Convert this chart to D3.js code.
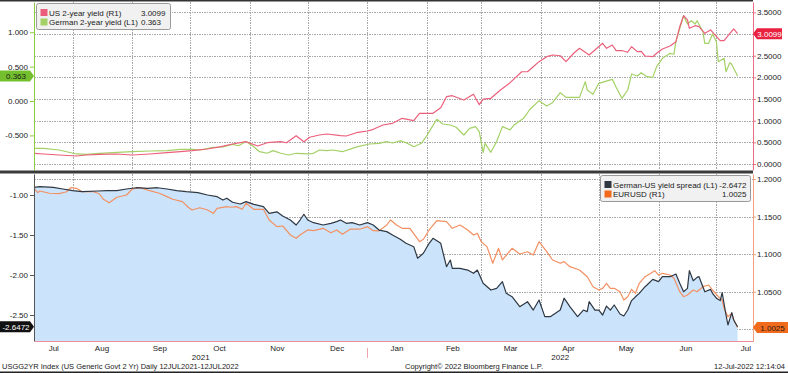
<!DOCTYPE html>
<meta charset="utf-8">
<style>
body { margin: 0; background: #fff; }
svg text { font-family: "Liberation Sans", Arial, sans-serif; font-size: 8px; }
.grid line { stroke: #a8a8a8; stroke-width: 1; stroke-dasharray: 1.5,1; shape-rendering: crispEdges; }
</style>
<body>
<script src="https://d3js.org/d3.v7.min.js"></script>
<script>

// ---- data ----
var usDates = ["2021-07-12","2021-07-17","2021-07-25","2021-08-03","2021-08-08","2021-08-15","2021-08-24","2021-09-01","2021-09-10","2021-09-19","2021-09-26","2021-10-02","2021-10-10","2021-10-17","2021-10-23","2021-10-30","2021-11-05","2021-11-10","2021-11-17","2021-11-20","2021-11-25","2021-11-29","2021-12-02","2021-12-07","2021-12-11","2021-12-18","2021-12-21","2021-12-27","2022-01-01","2022-01-04","2022-01-09","2022-01-14","2022-01-19","2022-01-25","2022-01-28","2022-02-04","2022-02-08","2022-02-11","2022-02-14","2022-02-20","2022-02-25","2022-02-28","2022-03-02","2022-03-06","2022-03-11","2022-03-16","2022-03-22","2022-03-25","2022-03-28","2022-03-31","2022-04-04","2022-04-07","2022-04-11","2022-04-14","2022-04-18","2022-04-21","2022-04-26","2022-04-30","2022-05-03","2022-05-05","2022-05-08","2022-05-10","2022-05-13","2022-05-16","2022-05-18","2022-05-21","2022-05-23","2022-05-25","2022-05-29","2022-05-31","2022-06-03","2022-06-07","2022-06-10","2022-06-12","2022-06-14","2022-06-16","2022-06-17","2022-06-20","2022-06-22","2022-06-25","2022-06-28","2022-06-30","2022-07-03","2022-07-05","2022-07-08","2022-07-10","2022-07-12"];
var usYield = [0.247,0.231,0.208,0.185,0.208,0.224,0.231,0.208,0.231,0.261,0.284,0.307,0.346,0.40,0.462,0.515,0.416,0.492,0.515,0.49,0.654,0.515,0.617,0.67,0.693,0.654,0.647,0.732,0.762,0.801,0.90,0.94,1.055,1.0,1.171,1.171,1.30,1.554,1.577,1.478,1.61,1.37,1.50,1.517,1.709,1.878,2.13,2.13,2.247,2.363,2.478,2.517,2.50,2.363,2.557,2.672,2.517,2.672,2.788,2.672,2.748,2.617,2.62,2.58,2.709,2.594,2.60,2.494,2.478,2.557,2.656,2.725,2.824,3.171,3.425,3.326,3.134,3.194,3.171,3.018,3.095,2.995,2.848,2.848,3.018,3.118,3.0099];

var deDates = ["2021-07-12","2021-07-17","2021-07-25","2021-08-03","2021-08-08","2021-08-15","2021-08-24","2021-09-01","2021-09-10","2021-09-19","2021-09-26","2021-10-02","2021-10-06","2021-10-13","2021-10-18","2021-10-23","2021-10-26","2021-10-30","2021-11-03","2021-11-06","2021-11-10","2021-11-13","2021-11-17","2021-11-21","2021-11-25","2021-12-01","2021-12-04","2021-12-07","2021-12-11","2021-12-14","2021-12-19","2021-12-23","2021-12-27","2022-01-02","2022-01-07","2022-01-11","2022-01-14","2022-01-18","2022-01-21","2022-01-25","2022-01-29","2022-02-01","2022-02-02","2022-02-06","2022-02-09","2022-02-13","2022-02-16","2022-02-20","2022-02-23","2022-02-26","2022-02-28","2022-03-02","2022-03-03","2022-03-06","2022-03-09","2022-03-12","2022-03-16","2022-03-18","2022-03-23","2022-03-26","2022-03-31","2022-04-04","2022-04-07","2022-04-11","2022-04-14","2022-04-21","2022-04-24","2022-04-25","2022-04-28","2022-05-01","2022-05-04","2022-05-08","2022-05-10","2022-05-13","2022-05-16","2022-05-18","2022-05-21","2022-05-23","2022-05-26","2022-05-29","2022-05-31","2022-06-03","2022-06-07","2022-06-09","2022-06-10","2022-06-14","2022-06-16","2022-06-18","2022-06-20","2022-06-21","2022-06-24","2022-06-25","2022-06-27","2022-06-29","2022-07-01","2022-07-02","2022-07-05","2022-07-06","2022-07-08","2022-07-09","2022-07-12"];
var deYield = [-0.688,-0.688,-0.712,-0.77,-0.775,-0.76,-0.746,-0.737,-0.727,-0.722,-0.702,-0.702,-0.712,-0.673,-0.669,-0.63,-0.65,-0.59,-0.664,-0.737,-0.76,-0.722,-0.76,-0.785,-0.76,-0.77,-0.76,-0.712,-0.722,-0.712,-0.737,-0.70,-0.664,-0.625,-0.615,-0.59,-0.61,-0.58,-0.605,-0.664,-0.615,-0.494,-0.445,-0.266,-0.334,-0.349,-0.382,-0.494,-0.397,-0.373,-0.445,-0.751,-0.615,-0.746,-0.59,-0.373,-0.42,-0.349,-0.252,-0.131,0.005,-0.073,-0.025,0.121,0.053,0.053,0.281,0.16,0.097,0.257,0.281,0.315,0.20,0.039,0.16,0.392,0.363,0.411,0.353,0.344,0.499,0.62,0.693,0.68,0.862,1.24,1.119,1.167,1.119,1.167,1.007,0.839,0.839,0.974,0.862,0.571,0.62,0.426,0.557,0.53,0.363];

var spreadDates = ["2021-07-12","2021-07-15","2021-07-22","2021-07-27","2021-08-01","2021-08-06","2021-08-14","2021-08-19","2021-08-24","2021-08-29","2021-09-03","2021-09-09","2021-09-14","2021-09-19","2021-09-24","2021-09-29","2021-10-05","2021-10-10","2021-10-15","2021-10-18","2021-10-20","2021-10-23","2021-10-27","2021-10-30","2021-11-03","2021-11-08","2021-11-11","2021-11-15","2021-11-18","2021-11-22","2021-11-25","2021-11-27","2021-11-29","2021-12-01","2021-12-04","2021-12-09","2021-12-13","2021-12-16","2021-12-18","2021-12-21","2021-12-24","2021-12-28","2022-01-01","2022-01-04","2022-01-07","2022-01-11","2022-01-14","2022-01-18","2022-01-21","2022-01-25","2022-01-27","2022-01-30","2022-02-02","2022-02-04","2022-02-08","2022-02-11","2022-02-13","2022-02-14","2022-02-18","2022-02-22","2022-02-25","2022-02-27","2022-03-02","2022-03-06","2022-03-09","2022-03-12","2022-03-14","2022-03-17","2022-03-21","2022-03-25","2022-03-28","2022-03-31","2022-04-03","2022-04-06","2022-04-11","2022-04-13","2022-04-16","2022-04-20","2022-04-23","2022-04-25","2022-04-26","2022-04-29","2022-05-01","2022-05-03","2022-05-05","2022-05-07","2022-05-09","2022-05-12","2022-05-14","2022-05-16","2022-05-18","2022-05-21","2022-05-22","2022-05-25","2022-05-26","2022-05-29","2022-06-01","2022-06-03","2022-06-07","2022-06-10","2022-06-12","2022-06-14","2022-06-16","2022-06-17","2022-06-19","2022-06-21","2022-06-22","2022-06-25","2022-06-28","2022-06-29","2022-07-01","2022-07-03","2022-07-04","2022-07-06","2022-07-07","2022-07-09","2022-07-10","2022-07-12"];
var spreadVals = [-0.904,-0.896,-0.905,-0.925,-0.946,-0.958,-0.95,-0.946,-0.946,-0.925,-0.909,-0.917,-0.909,-0.925,-0.946,-0.959,-0.971,-1.0,-1.021,-1.063,-1.04,-1.091,-1.113,-1.083,-1.117,-1.146,-1.229,-1.21,-1.263,-1.313,-1.375,-1.313,-1.241,-1.313,-1.346,-1.375,-1.354,-1.333,-1.313,-1.354,-1.346,-1.375,-1.346,-1.375,-1.438,-1.458,-1.5,-1.554,-1.604,-1.646,-1.79,-1.729,-1.604,-1.541,-1.604,-1.896,-1.813,-1.917,-1.917,-1.938,-1.979,-1.938,-2.104,-2.188,-2.167,-2.083,-2.229,-2.271,-2.396,-2.333,-2.438,-2.313,-2.52,-2.52,-2.438,-2.29,-2.396,-2.52,-2.438,-2.458,-2.333,-2.438,-2.44,-2.5,-2.388,-2.44,-2.375,-2.488,-2.513,-2.438,-2.32,-2.25,-2.23,-2.146,-2.125,-2.054,-2.083,-2.021,-2.021,-1.988,-2.104,-2.21,-2.167,-1.946,-2.071,-2.03,-2.021,-2.21,-2.18,-2.229,-2.29,-2.32,-2.221,-2.5,-2.625,-2.471,-2.563,-2.6472];

var fxDates = ["2021-07-12","2021-07-14","2021-07-15","2021-07-20","2021-07-25","2021-07-29","2021-07-31","2021-08-03","2021-08-06","2021-08-12","2021-08-15","2021-08-17","2021-08-20","2021-08-24","2021-08-29","2021-09-01","2021-09-05","2021-09-10","2021-09-15","2021-09-19","2021-09-22","2021-09-27","2021-09-30","2021-10-02","2021-10-06","2021-10-10","2021-10-13","2021-10-15","2021-10-20","2021-10-22","2021-10-25","2021-10-28","2021-10-30","2021-11-03","2021-11-08","2021-11-11","2021-11-15","2021-11-18","2021-11-22","2021-11-25","2021-11-27","2021-12-01","2021-12-04","2021-12-09","2021-12-13","2021-12-16","2021-12-19","2021-12-23","2021-12-28","2022-01-01","2022-01-04","2022-01-07","2022-01-11","2022-01-13","2022-01-16","2022-01-19","2022-01-23","2022-01-28","2022-01-30","2022-02-02","2022-02-06","2022-02-11","2022-02-14","2022-02-18","2022-02-22","2022-02-25","2022-02-27","2022-03-01","2022-03-04","2022-03-07","2022-03-10","2022-03-12","2022-03-17","2022-03-21","2022-03-25","2022-03-28","2022-03-31","2022-04-04","2022-04-07","2022-04-11","2022-04-13","2022-04-16","2022-04-21","2022-04-25","2022-04-28","2022-05-01","2022-05-03","2022-05-05","2022-05-07","2022-05-09","2022-05-12","2022-05-14","2022-05-16","2022-05-18","2022-05-20","2022-05-22","2022-05-25","2022-05-28","2022-05-30","2022-06-01","2022-06-03","2022-06-07","2022-06-09","2022-06-12","2022-06-14","2022-06-16","2022-06-19","2022-06-21","2022-06-24","2022-06-27","2022-06-29","2022-07-02","2022-07-04","2022-07-05","2022-07-07","2022-07-09","2022-07-10","2022-07-12"];
var eurusd = [1.1876,1.1818,1.184,1.181,1.1805,1.183,1.1884,1.1876,1.183,1.183,1.18,1.173,1.1685,1.1757,1.1787,1.1867,1.1884,1.1844,1.181,1.1765,1.173,1.1698,1.1624,1.1588,1.1618,1.1588,1.1544,1.161,1.1632,1.1624,1.1632,1.1597,1.1677,1.1597,1.1597,1.1455,1.1366,1.1375,1.1255,1.1211,1.1255,1.1322,1.1313,1.1344,1.1286,1.1322,1.1265,1.1332,1.1332,1.1366,1.1313,1.131,1.1388,1.1455,1.1388,1.1344,1.1344,1.1166,1.1198,1.1322,1.1445,1.1432,1.1344,1.1388,1.1322,1.1255,1.1277,1.1166,1.11,1.0879,1.1078,1.0923,1.1078,1.1003,1.1033,1.0989,1.1166,1.1033,1.0923,1.0879,1.0901,1.0834,1.079,1.07,1.0568,1.0524,1.0546,1.0613,1.0546,1.0546,1.0501,1.0391,1.0435,1.0533,1.048,1.0613,1.0701,1.0746,1.0781,1.0723,1.0746,1.0723,1.068,1.0501,1.0435,1.0457,1.0524,1.0501,1.0568,1.059,1.0524,1.0435,1.0391,1.028,1.0169,1.0214,1.0125,1.0025];

var deTicks = [-0.5, 0, 0.5, 1.0];
var usTicks = [0, 0.5, 1.0, 1.5, 2.0, 2.5, 3.0, 3.5];
var spreadTicks = [-2.5, -2.0, -1.5, -1.0];
var fxTicks = [1.05, 1.10, 1.15, 1.20];       // 1.0000 sits under the last-value tag
var fxGrid = [1.0, 1.05, 1.10, 1.15, 1.20];

var monthLabels = ["Jul","Aug","Sep","Oct","Nov","Dec","Jan","Feb","Mar","Apr","May","Jun","Jul"];
var monthLabelDates = ["2021-07-22","2021-08-16","2021-09-15","2021-10-16","2021-11-15","2021-12-16","2022-01-16","2022-02-14","2022-03-16","2022-04-15","2022-05-15","2022-06-15","2022-07-16"];
var yearLabels = ["2021", "2022"];

var topLegend = ["US 2-year yield (R1)", "German 2-year yield (L1)"];
var bottomLegend = ["German-US yield spread (L1)", "EURUSD (R1)"];
var footerLeft = "USGG2YR Index (US Generic Govt 2 Yr)  Daily 12JUL2021-12JUL2022";
var footerMid = "Copyright\u00A9 2022 Bloomberg Finance L.P.";
var footerRight = "12-Jul-2022 12:14:04";

// ---- layout ----
var width = 788, height = 373;
var left = 34, right = 753;
var top1 = 2, bot1 = 170, top2 = 174, bot2 = 341;

var cUS = "#ec5f7b", cDE = "#a3d166", cSP = "#2e3742", cFX = "#f39062";

var parse = d3.timeParse("%Y-%m-%d");
var loc = d3.formatLocale({decimal: ".", thousands: ",", grouping: [3], currency: ["$", ""], minus: "-"});

function series(dates, vals) {
  return dates.map(function(d, i) { return {date: parse(d), v: vals[i]}; });
}
var us = series(usDates, usYield),
    de = series(deDates, deYield),
    sp = series(spreadDates, spreadVals),
    fx = series(fxDates, eurusd);

var x = d3.scaleTime().domain([parse("2021-07-12"), parse("2022-07-20")]).range([left, right]);
var yDe = d3.scaleLinear().domain([-1.003, 1.439]).range([bot1, top1]);
var yUs = d3.scaleLinear().domain([-0.1386, 3.741]).range([bot1, top1]);
var ySp = d3.scaleLinear().domain([-2.825, -0.7375]).range([bot2, top2]);
var yFx = d3.scaleLinear().domain([0.9846, 1.2066]).range([bot2, top2]);

var svg = d3.select("body").append("svg")
    .attr("width", width)
    .attr("height", height);

// grid lines
var monthStarts = d3.timeMonth.range(parse("2021-08-01"), parse("2022-07-02"));
var grid = svg.append("g").attr("class", "grid");
[[top1, bot1], [top2, bot2]].forEach(function(p) {
  grid.selectAll(null).data(monthStarts).enter().append("line")
      .attr("x1", function(d) { return Math.round(x(d)) + 0.5; })
      .attr("x2", function(d) { return Math.round(x(d)) + 0.5; })
      .attr("y1", p[0]).attr("y2", p[1]);
});
grid.selectAll(null).data(usTicks).enter().append("line")
    .attr("x1", left).attr("x2", right)
    .attr("y1", function(d) { return Math.round(yUs(d)) + 0.5; })
    .attr("y2", function(d) { return Math.round(yUs(d)) + 0.5; });
grid.selectAll(null).data(fxGrid).enter().append("line")
    .attr("x1", left).attr("x2", right)
    .attr("y1", function(d) { return Math.round(yFx(d)) + 0.5; })
    .attr("y2", function(d) { return Math.round(yFx(d)) + 0.5; });

// spread area
svg.append("path").datum(sp)
    .attr("fill", "#cbe4fb")
    .attr("d", d3.area().x(function(d) { return x(d.date); }).y0(bot2).y1(function(d) { return ySp(d.v); }));

function drawLine(data, yScale, color) {
  svg.append("path").datum(data)
      .attr("fill", "none")
      .attr("stroke", color)
      .attr("stroke-width", 1.2)
      .attr("stroke-linejoin", "round")
      .attr("d", d3.line().x(function(d) { return x(d.date); }).y(function(d) { return yScale(d.v); }));
}
drawLine(de, yDe, cDE);
drawLine(us, yUs, cUS);
drawLine(fx, yFx, cFX);
drawLine(sp, ySp, cSP);

// axes
function styleAxis(g, color) {
  g.select(".domain").attr("stroke", color);
  g.selectAll(".tick line").attr("stroke", color);
  g.selectAll(".tick text").style("fill", "#1a1a1a").style("font-size", "8px");
}
svg.append("g").attr("transform", "translate(" + left + ",0)")
    .call(d3.axisLeft(yDe).tickValues(deTicks).tickFormat(loc.format(".3f")).tickSize(4).tickSizeOuter(0).tickPadding(2))
    .call(styleAxis, "#8fcb45");
svg.append("g").attr("transform", "translate(" + right + ",0)")
    .call(d3.axisRight(yUs).tickValues(usTicks).tickFormat(loc.format(".4f")).tickSize(3).tickSizeOuter(0).tickPadding(1))
    .call(styleAxis, "#ef6d86");
svg.append("g").attr("transform", "translate(" + left + ",0)")
    .call(d3.axisLeft(ySp).tickValues(spreadTicks).tickFormat(loc.format(".2f")).tickSize(4).tickSizeOuter(0).tickPadding(2))
    .call(styleAxis, "#555");
svg.append("g").attr("transform", "translate(" + right + ",0)")
    .call(d3.axisRight(yFx).tickValues(fxTicks).tickFormat(loc.format(".4f")).tickSize(3).tickSizeOuter(0).tickPadding(1))
    .call(styleAxis, "#f2a07e");

var gx = svg.append("g").attr("transform", "translate(0," + bot2 + ")")
    .call(d3.axisBottom(x).tickValues(monthLabelDates.map(parse))
      .tickFormat(function(d, i) { return monthLabels[i]; })
      .tickSize(0).tickSizeOuter(0).tickPadding(4));
gx.select(".domain").attr("stroke", "#ec8e9a");
gx.selectAll(".tick text").style("fill", "#1a1a1a").style("font-size", "8px");

// year labels and separator
var yearStart = parse("2022-01-01");
var xd = x.domain();
svg.selectAll(null).data(yearLabels).enter().append("text")
    .attr("x", function(d, i) { return i === 0 ? (x(xd[0]) + x(yearStart)) / 2 : (x(yearStart) + x(xd[1])) / 2; })
    .attr("y", 360)
    .attr("text-anchor", "middle")
    .style("fill", "#1a1a1a")
    .text(function(d) { return d; });
svg.append("line")
    .attr("x1", Math.round(x(yearStart)) + 0.5).attr("x2", Math.round(x(yearStart)) + 0.5)
    .attr("y1", 348).attr("y2", 358)
    .attr("stroke", "#f0a4ae");

// frame pieces
svg.append("rect").attr("x", 0).attr("y", 0).attr("width", right).attr("height", 1.5).attr("fill", "#333");
svg.append("rect").attr("x", 0).attr("y", 170.5).attr("width", right).attr("height", 3).attr("fill", "#3a3a3a");
svg.append("rect").attr("x", 0).attr("y", 371.5).attr("width", width).attr("height", 1.5).attr("fill", "#222");

// legends
function legend(x0, y0, w, names, values, colors, rightAlign) {
  var g = svg.append("g");
  g.append("rect").attr("x", x0 + 0.5).attr("y", y0 + 0.5).attr("width", w).attr("height", 26)
      .attr("rx", 2).attr("fill", "#f1f1f1").attr("stroke", "#9a9a9a");
  names.forEach(function(n, i) {
    var cy = y0 + 9.5 + i * 9.5;
    g.append("rect").attr("x", x0 + 4.5).attr("y", cy - 3.5).attr("width", 7).attr("height", 7).attr("fill", colors[i]);
    g.append("text").attr("x", x0 + 13).attr("y", cy + 3).style("fill", "#1a1a1a").text(n);
    g.append("text")
        .attr("x", rightAlign ? x0 + w - 3.5 : x0 + 105)
        .attr("y", cy + 3)
        .attr("text-anchor", rightAlign ? "end" : "start")
        .style("fill", "#1a1a1a")
        .text(values[i]);
  });
}
legend(36, 3, 134, topLegend, ["3.0099", "0.363"], [cUS, cDE], false);
legend(600, 175, 150, bottomLegend, ["-2.6472", "1.0025"], [cSP, "#f26a1b"], true);

// last-value tags
function leftTag(yc, fill, txtColor, label) {
  var h = 5.5, xe = left;
  svg.append("path")
      .attr("d", "M0," + (yc - h) + "L" + (xe - 4) + "," + (yc - h) + "L" + xe + "," + yc + "L" + (xe - 4) + "," + (yc + h) + "L0," + (yc + h) + "Z")
      .attr("fill", fill);
  svg.append("text").attr("x", (xe - 4) / 2 + 1).attr("y", yc + 3).attr("text-anchor", "middle")
      .style("fill", txtColor).text(label);
}
function rightTag(yc, xEnd, fill, txtColor, label) {
  var h = 5.5, xs = right;
  svg.append("path")
      .attr("d", "M" + xs + "," + yc + "L" + (xs + 4) + "," + (yc - h) + "L" + xEnd + "," + (yc - h) + "L" + xEnd + "," + (yc + h) + "L" + (xs + 4) + "," + (yc + h) + "Z")
      .attr("fill", fill);
  svg.append("text").attr("x", (xs + 4 + xEnd) / 2).attr("y", yc + 3).attr("text-anchor", "middle")
      .style("fill", txtColor).text(label);
}
leftTag(yDe(deYield[deYield.length - 1]), "#74bf2e", "#1a1a1a", "0.363");
rightTag(yUs(usYield[usYield.length - 1]), 782, "#e8213f", "#fff", "3.0099");
leftTag(ySp(spreadVals[spreadVals.length - 1]), "#111", "#fff", "-2.6472");
rightTag(yFx(eurusd[eurusd.length - 1]), 788, "#f26a1b", "#1a1a1a", "1.0025");

// footer
var foot = svg.append("g").style("font-size", "7.5px");
foot.append("text").attr("x", 2).attr("y", 369).style("fill", "#1a1a1a").style("font-size", "7.5px").text(footerLeft);
foot.append("text").attr("x", 405).attr("y", 369).style("fill", "#1a1a1a").style("font-size", "7.5px").text(footerMid);
foot.append("text").attr("x", 785).attr("y", 369).attr("text-anchor", "end").style("fill", "#1a1a1a").style("font-size", "7.5px").text(footerRight);

</script>
</body>
